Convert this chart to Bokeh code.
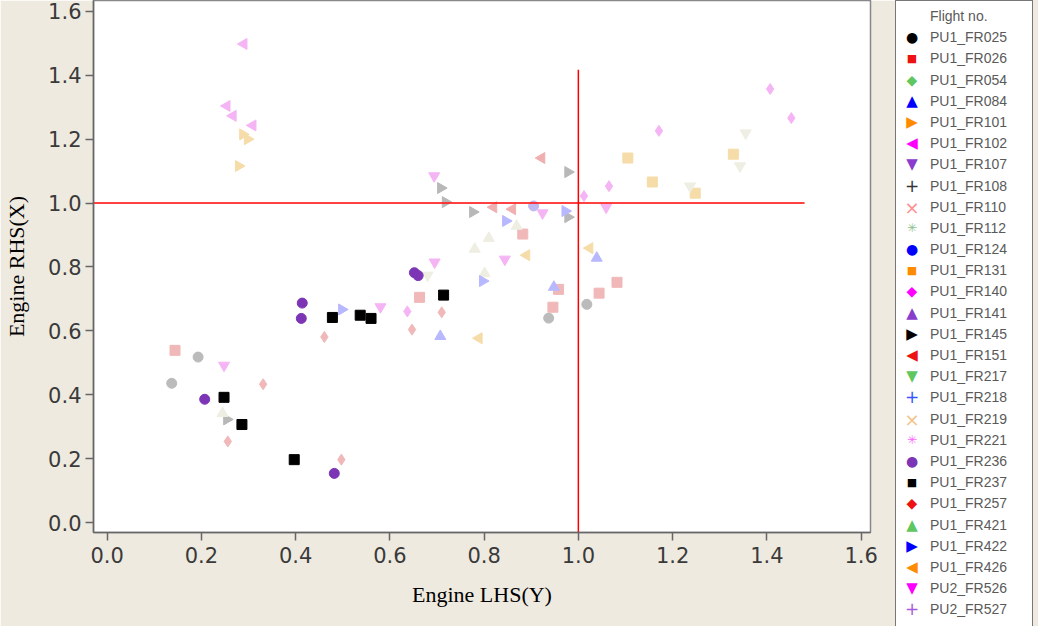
import math
from bokeh.plotting import figure
from bokeh.layouts import row
from bokeh.models import FixedTicker, PrintfTickFormatter, Range1d, Div
from bokeh.embed import file_html
from bokeh.resources import INLINE

# ---------------- data ----------------
flights = ["PU1_FR025", "PU1_FR026", "PU1_FR054", "PU1_FR084", "PU1_FR101", "PU1_FR102",
           "PU1_FR107", "PU1_FR108", "PU1_FR110", "PU1_FR112", "PU1_FR124", "PU1_FR131",
           "PU1_FR140", "PU1_FR141", "PU1_FR145", "PU1_FR151", "PU1_FR217", "PU1_FR218",
           "PU1_FR219", "PU1_FR221", "PU1_FR236", "PU1_FR237", "PU1_FR257", "PU1_FR421",
           "PU1_FR422", "PU1_FR426", "PU2_FR526", "PU2_FR527"]

marker_kinds = ["circle", "square", "diamond", "triangle", "triangle", "triangle",
                "inverted_triangle", "cross", "x", "asterisk", "circle", "square",
                "diamond", "triangle", "triangle", "triangle", "inverted_triangle", "cross",
                "x", "asterisk", "circle", "square", "diamond", "triangle",
                "triangle", "triangle", "inverted_triangle", "cross"]
marker_dirs = ["", "", "", "", "right", "left", "", "", "", "", "", "",
               "", "", "right", "left", "", "", "", "", "", "", "", "",
               "right", "left", "", ""]

legend_colors = ["#000000", "#ee1111", "#5fc75f", "#0000ff", "#ff8c00", "#ff00ff",
                 "#8a3ccc", "#333333", "#ff8f8f", "#8fbf8f", "#0000ff", "#ff8c00",
                 "#ff00ff", "#8a3ccc", "#000000", "#ee1111", "#5fc75f", "#3355ff",
                 "#f2c48a", "#ff66ff", "#7b35b5", "#000000", "#ee1111", "#5fc75f",
                 "#0000ff", "#ff8c00", "#ff00ff", "#a85ad8"]

data_colors = ["#bbbbbb", "#f0b8b8", "#cdeccd", "#b8b8ff", "#f5dca8", "#f5b5f5",
               "#d8c0ef", "#bbbbbb", "#ffd0d0", "#d0e0d0", "#c0b8f0", "#f5dca8",
               "#f5b5f5", "#d8c0ef", "#b8b8b8", "#f0b0b0", "#eeeee2", "#c0c8ff",
               "#f8e4c8", "#ffc8ff", "#7b35b5", "#000000", "#f0b8b8", "#eeeee2",
               "#b8b8ff", "#f5dca8", "#f5b5f5", "#e0c8f0"]

legend_title = "Flight no."

# Engine LHS (x) / Engine RHS (y) per flight
x_FR025 = [1.018, 0.937, 0.193, 0.137]
y_FR025 = [0.683, 0.640, 0.518, 0.436]
x_FR026 = [0.882, 0.958, 1.082, 1.044, 0.663, 0.946, 0.144]
y_FR026 = [0.903, 0.730, 0.752, 0.718, 0.705, 0.674, 0.539]
x_FR084 = [1.039, 0.948, 0.707]
y_FR084 = [0.828, 0.737, 0.583]
x_FR101 = [0.288, 0.298, 0.279]
y_FR101 = [1.215, 1.200, 1.116]
x_FR102 = [0.290, 0.254, 0.267, 0.309]
y_FR102 = [1.498, 1.304, 1.273, 1.243]
x_FR124 = [0.905]
y_FR124 = [0.991]
x_FR131 = [1.105, 1.157, 1.248, 1.329]
y_FR131 = [1.141, 1.066, 1.031, 1.153]
x_FR140 = [1.171, 1.065, 1.012, 1.452, 1.407, 0.637]
y_FR140 = [1.226, 1.053, 1.022, 1.266, 1.357, 0.661]
x_FR145 = [0.978, 0.708, 0.718, 0.776, 0.978, 0.254]
y_FR145 = [1.097, 1.047, 1.003, 0.972, 0.956, 0.323]
x_FR151 = [0.922, 0.820, 0.860]
y_FR151 = [1.141, 0.987, 0.981]
x_FR217 = [1.237, 1.355, 1.343, 0.680]
y_FR217 = [1.053, 1.219, 1.116, 0.774]
x_FR236 = [0.652, 0.660, 0.414, 0.412, 0.207, 0.482]
y_FR236 = [0.782, 0.773, 0.687, 0.639, 0.386, 0.154]
x_FR237 = [0.714, 0.478, 0.537, 0.560, 0.248, 0.286, 0.397]
y_FR237 = [0.712, 0.642, 0.649, 0.639, 0.392, 0.307, 0.197]
x_FR257 = [0.710, 0.647, 0.461, 0.331, 0.256, 0.497]
y_FR257 = [0.658, 0.604, 0.581, 0.433, 0.254, 0.197]
x_FR421 = [0.869, 0.810, 0.780, 0.801, 0.245]
y_FR421 = [0.928, 0.890, 0.856, 0.780, 0.342]
x_FR422 = [0.972, 0.797, 0.498, 0.846]
y_FR422 = [0.975, 0.756, 0.667, 0.944]
x_FR426 = [1.024, 0.890, 0.789]
y_FR426 = [0.859, 0.837, 0.577]
x_FR526 = [0.694, 0.924, 1.059, 0.844, 0.695, 0.580, 0.248]
y_FR526 = [1.085, 0.969, 0.987, 0.824, 0.815, 0.675, 0.492]

series_x = {"PU1_FR025": x_FR025, "PU1_FR026": x_FR026, "PU1_FR084": x_FR084,
            "PU1_FR101": x_FR101, "PU1_FR102": x_FR102, "PU1_FR124": x_FR124,
            "PU1_FR131": x_FR131, "PU1_FR140": x_FR140, "PU1_FR145": x_FR145,
            "PU1_FR151": x_FR151, "PU1_FR217": x_FR217, "PU1_FR236": x_FR236,
            "PU1_FR237": x_FR237, "PU1_FR257": x_FR257, "PU1_FR421": x_FR421,
            "PU1_FR422": x_FR422, "PU1_FR426": x_FR426, "PU2_FR526": x_FR526}
series_y = {"PU1_FR025": y_FR025, "PU1_FR026": y_FR026, "PU1_FR084": y_FR084,
            "PU1_FR101": y_FR101, "PU1_FR102": y_FR102, "PU1_FR124": y_FR124,
            "PU1_FR131": y_FR131, "PU1_FR140": y_FR140, "PU1_FR145": y_FR145,
            "PU1_FR151": y_FR151, "PU1_FR217": y_FR217, "PU1_FR236": y_FR236,
            "PU1_FR237": y_FR237, "PU1_FR257": y_FR257, "PU1_FR421": y_FR421,
            "PU1_FR422": y_FR422, "PU1_FR426": y_FR426, "PU2_FR526": y_FR526}

# reference lines (ratio = 1.0)
ref_h_x = [-0.03, 1.48]
ref_h_y = [1.0, 1.0]
ref_v_x = [1.0, 1.0]
ref_v_y = [-0.04, 1.417]

axis_ticks = [0.0, 0.2, 0.4, 0.6, 0.8, 1.0, 1.2, 1.4, 1.6]

# ---------------- main figure ----------------
BG = "#efeae0"
p = figure(width=895, height=626, output_backend="svg", toolbar_location=None,
           x_range=Range1d(-0.029, 1.62), y_range=Range1d(-0.031, 1.634),
           min_border_left=93, min_border_right=25, min_border_top=0, min_border_bottom=94,
           background_fill_color="white", border_fill_color=BG,
           outline_line_color="#888888", outline_line_width=1.5)
p.xgrid.visible = False
p.ygrid.visible = False

for ax in (p.xaxis[0], p.yaxis[0]):
    ax.ticker = FixedTicker(ticks=axis_ticks)
    ax.formatter = PrintfTickFormatter(format="%.1f")
    ax.major_label_text_font = "DejaVu Sans"
    ax.major_label_text_font_size = "21px"
    ax.major_label_text_color = "#3a3a3a"
    ax.axis_line_color = "#666666"
    ax.axis_line_width = 1.5
    ax.major_tick_line_color = "#666666"
    ax.major_tick_line_width = 1.5
    ax.major_tick_out = 8
    ax.major_tick_in = 0
    ax.minor_tick_line_color = None
    ax.axis_label_text_font = "Liberation Serif"
    ax.axis_label_text_font_style = "normal"
    ax.axis_label_text_font_size = "22px"
    ax.axis_label_text_color = "#000000"

p.xaxis.axis_label = "Engine LHS(Y)"
p.yaxis.axis_label = "Engine RHS(X)"
p.xaxis.major_label_standoff = 6
p.yaxis.major_label_standoff = 4
p.xaxis.axis_label_standoff = 16
p.yaxis.axis_label_standoff = 16

angle_of = {"": 0.0, "right": -math.pi / 2, "left": math.pi / 2}

for i, name in enumerate(flights):
    if name not in series_x:
        continue
    kind = marker_kinds[i]
    line_marker = kind in ("cross", "x", "asterisk")
    sz = 10 if kind in ("circle", "square") else 11
    p.scatter(x=series_x[name], y=series_y[name], marker=kind,
              angle=angle_of[marker_dirs[i]], size=sz,
              fill_color=data_colors[i], line_color=data_colors[i],
              line_width=1.2 if line_marker else 1)

p.line(x=ref_h_x, y=ref_h_y, line_color="#ff2020", line_width=2, line_alpha=0.85)
p.line(x=ref_v_x, y=ref_v_y, line_color="#ff0000", line_width=1.5)

# ---------------- legend panel (full-colour symbols) ----------------
symbol_of = {("circle", ""): "\u25CF", ("square", ""): "\u25A0", ("diamond", ""): "\u25C6",
             ("triangle", ""): "\u25B2", ("triangle", "right"): "\u25B6",
             ("triangle", "left"): "\u25C0", ("inverted_triangle", ""): "\u25BC",
             ("cross", ""): "+", ("x", ""): "\u00D7", ("asterisk", ""): "\u2733"}
symbol_px = {"circle": 14, "square": 11, "diamond": 14, "triangle": 15,
             "inverted_triangle": 15, "cross": 17, "x": 18, "asterisk": 12}

row_style = "height:21.2px;line-height:21.2px;white-space:nowrap;"
sym_style = ("display:inline-block;width:24px;margin-left:4px;margin-right:6px;"
             "text-align:center;font-family:'DejaVu Sans';vertical-align:top;")
rows_html = ['<div style="%s"><span style="%s"></span><span>%s</span></div>'
             % (row_style, sym_style, legend_title)]
for i, name in enumerate(flights):
    kind = marker_kinds[i]
    rows_html.append(
        '<div style="%s"><span style="%scolor:%s;font-size:%dpx;">%s</span><span>%s</span></div>'
        % (row_style, sym_style, legend_colors[i], symbol_px[kind],
           symbol_of[(kind, marker_dirs[i])], name))

box_html = ('<div style="width:138px;height:660px;box-sizing:border-box;background:#ffffff;'
            'border:1.5px solid #777777;padding-top:5px;font-family:\'Liberation Sans\';'
            'font-size:14px;color:#5a5a5a;overflow:hidden;">' + "".join(rows_html) + '</div>')

legend_div = Div(text=box_html, width=143, height=626, margin=0,
                 styles={"background-color": BG, "overflow": "hidden"})

layout = row(p, legend_div, spacing=0)
open("out.html", "w").write(file_html(layout, INLINE))
